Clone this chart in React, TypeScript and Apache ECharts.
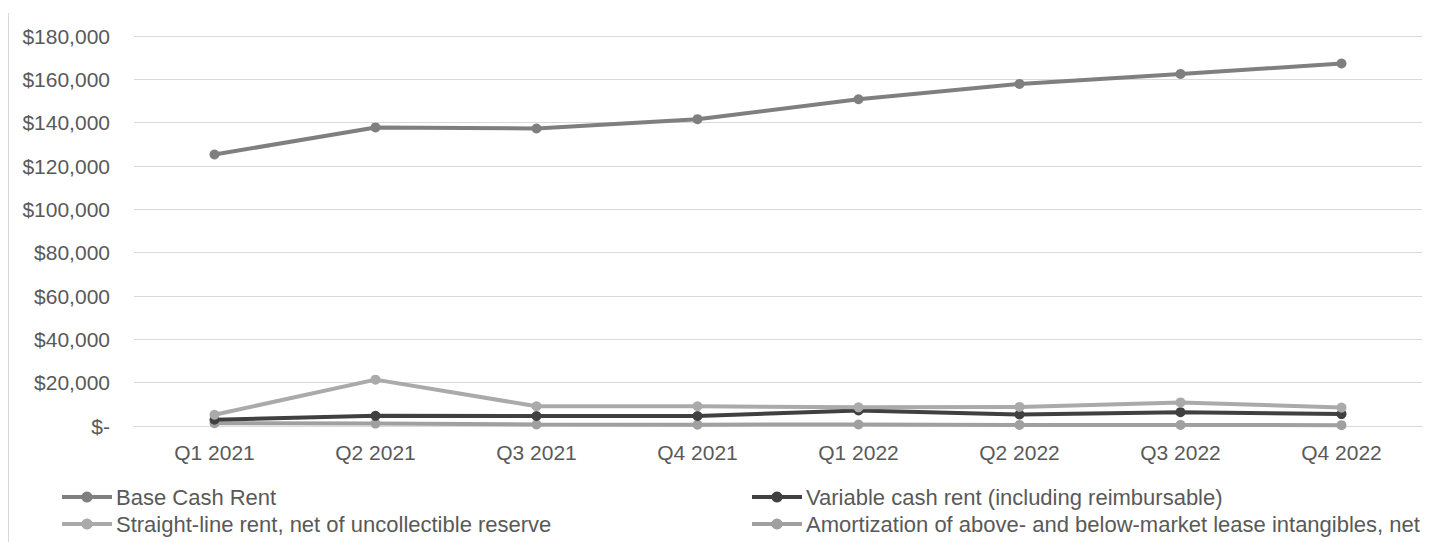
import React, { useEffect, useRef } from "react";
import * as echarts from "echarts";

const categories = ["Q1 2021", "Q2 2021", "Q3 2021", "Q4 2021", "Q1 2022", "Q2 2022", "Q3 2022", "Q4 2022"];
const baseCashRent = [125300, 137800, 137300, 141600, 150800, 157900, 162500, 167300];
const variableCashRent = [2900, 4700, 4600, 4600, 7200, 5300, 6400, 5500];
const straightLineRent = [5200, 21400, 9100, 9100, 8600, 8800, 10900, 8500];
const amortization = [1300, 1100, 700, 600, 700, 500, 500, 400];
const yTicks = { min: 0, max: 180000, interval: 20000 };

const NAMES = [
  "Base Cash Rent",
  "Variable cash rent (including reimbursable)",
  "Straight-line rent, net of uncollectible reserve",
  "Amortization of above- and below-market lease intangibles, net",
];

export default function App() {
  const ref = useRef<HTMLDivElement>(null);
  useEffect(() => {
    if (!ref.current) return;
    const chart = echarts.init(ref.current, null, { renderer: "svg" });
    const font = "'Liberation Sans', Arial, sans-serif";
    const textColor = "#595959";
    const mk = (name: string, data: number[], color: string, z: number) => ({
      name,
      type: "line",
      data,
      symbol: "circle",
      symbolSize: 10,
      z,
      lineStyle: { color, width: 4 },
      itemStyle: { color },
      emphasis: { disabled: true },
    });
    const legendBase = {
      orient: "vertical",
      top: 481,
      itemWidth: 50,
      itemHeight: 14,
      itemGap: 5,
      lineStyle: { width: 4 },
      textStyle: { color: textColor, fontSize: 22, fontFamily: font, padding: [0, 0, 0, -1] },
      selectedMode: false,
    };
    chart.setOption({
      animation: false,
      backgroundColor: "#ffffff",
      grid: { left: 134, right: 12, top: 36, bottom: 116, containLabel: false },
      xAxis: {
        type: "category",
        data: categories,
        boundaryGap: true,
        axisLine: { show: true, lineStyle: { color: "#d9d9d9", width: 1 } },
        axisTick: { show: false },
        axisLabel: { color: textColor, fontSize: 21, fontFamily: font, margin: 16 },
      },
      yAxis: {
        type: "value",
        min: yTicks.min,
        max: yTicks.max,
        interval: yTicks.interval,
        axisLine: { show: false },
        axisTick: { show: false },
        splitLine: { lineStyle: { color: "#d9d9d9", width: 1 } },
        axisLabel: {
          color: textColor,
          fontSize: 21,
          fontFamily: font,
          margin: 24,
          formatter: (v: number) => (v === 0 ? "$-" : "$" + v.toLocaleString("en-US")),
        },
      },
      legend: [
        { ...legendBase, data: [NAMES[0], NAMES[2]], left: 55 },
        { ...legendBase, data: [NAMES[1], NAMES[3]], left: 745 },
      ],
      graphic: [
        {
          type: "line",
          shape: { x1: 8.5, y1: 13, x2: 8.5, y2: 542 },
          style: { stroke: "#d9d9d9", lineWidth: 1 },
          silent: true,
        },
      ],
      series: [
        mk(NAMES[0], baseCashRent, "#7f7f7f", 4),
        mk(NAMES[3], amortization, "#a0a0a0", 1),
        mk(NAMES[1], variableCashRent, "#404040", 2),
        mk(NAMES[2], straightLineRent, "#aaaaaa", 3),
      ],
    });
    return () => chart.dispose();
  }, []);
  return (
    <div
      ref={ref}
      style={{ position: "fixed", left: 0, top: 0, width: 1434, height: 542, background: "#fff" }}
    />
  );
}
